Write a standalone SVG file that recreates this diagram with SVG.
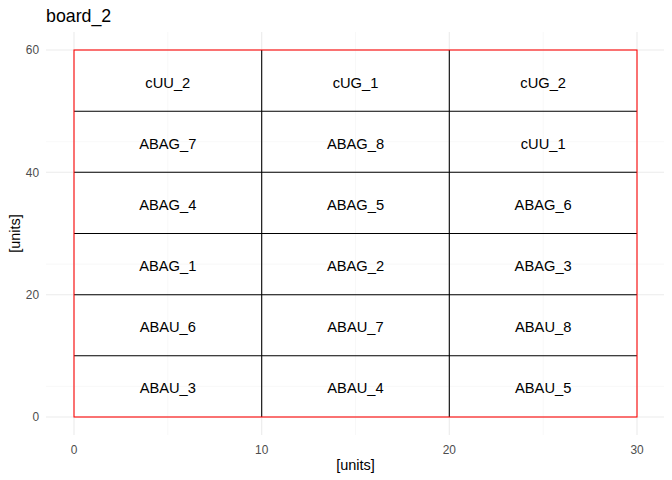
<svg xmlns="http://www.w3.org/2000/svg" width="672" height="480" viewBox="0 0 672 480">
  <style>
    .grid-major { stroke: #EBEBEB; stroke-width: 1.07; fill: none; }
    .grid-minor { stroke: #F2F2F2; stroke-width: 0.53; fill: none; }
    .divider { fill: none; stroke: #000000; stroke-width: 1.07; }
    .label { font-family: "Liberation Sans", Arial, sans-serif; font-size: 14.7px; fill: #000000; text-anchor: middle; }
    .tick { font-family: "Liberation Sans", Arial, sans-serif; font-size: 11.9px; fill: #4D4D4D; }
    .axis-title { font-family: "Liberation Sans", Arial, sans-serif; font-size: 14.5px; fill: #000000; text-anchor: middle; }
    .title { font-family: "Liberation Sans", Arial, sans-serif; font-size: 17.8px; fill: #000000; }
  </style>
  <rect x="0" y="0" width="672" height="480" fill="#FFFFFF"/>

  <!-- panel grid -->
  <g id="grid">
    <path class="grid-minor" d="M46,386.4H664M46,264.1H664M46,141.7H664M167.8,32V435M355.5,32V435M543.2,32V435"/>
    <path class="grid-major" d="M46,417H664M46,294.7H664M46,172.3H664M46,50H664M74,32V435M261.7,32V435M449.3,32V435M637,32V435"/>
  </g>

  <!-- inner cell dividers -->
  <path id="dividers" class="divider" d="M74,111.2H637M74,172.3H637M74,233.5H637M74,294.7H637M74,355.8H637M261.7,50V417M449.3,50V417"/>

  <!-- board cells -->
  <g id="cells">
    <g id="cell-cUU_2"><text class="label" x="167.8" y="87.5">cUU_2</text></g>
    <g id="cell-cUG_1"><text class="label" x="355.5" y="87.5">cUG_1</text></g>
    <g id="cell-cUG_2"><text class="label" x="543.2" y="87.5">cUG_2</text></g>

    <g id="cell-ABAG_7"><text class="label" x="167.8" y="148.6">ABAG_7</text></g>
    <g id="cell-ABAG_8"><text class="label" x="355.5" y="148.6">ABAG_8</text></g>
    <g id="cell-cUU_1"><text class="label" x="543.2" y="148.6">cUU_1</text></g>

    <g id="cell-ABAG_4"><text class="label" x="167.8" y="209.8">ABAG_4</text></g>
    <g id="cell-ABAG_5"><text class="label" x="355.5" y="209.8">ABAG_5</text></g>
    <g id="cell-ABAG_6"><text class="label" x="543.2" y="209.8">ABAG_6</text></g>

    <g id="cell-ABAG_1"><text class="label" x="167.8" y="271">ABAG_1</text></g>
    <g id="cell-ABAG_2"><text class="label" x="355.5" y="271">ABAG_2</text></g>
    <g id="cell-ABAG_3"><text class="label" x="543.2" y="271">ABAG_3</text></g>

    <g id="cell-ABAU_6"><text class="label" x="167.8" y="332.1">ABAU_6</text></g>
    <g id="cell-ABAU_7"><text class="label" x="355.5" y="332.1">ABAU_7</text></g>
    <g id="cell-ABAU_8"><text class="label" x="543.2" y="332.1">ABAU_8</text></g>

    <g id="cell-ABAU_3"><text class="label" x="167.8" y="393.3">ABAU_3</text></g>
    <g id="cell-ABAU_4"><text class="label" x="355.5" y="393.3">ABAU_4</text></g>
    <g id="cell-ABAU_5"><text class="label" x="543.2" y="393.3">ABAU_5</text></g>
  </g>

  <!-- board outline -->
  <rect id="board-outline" x="74" y="50" width="563" height="367" fill="none" stroke="#FF0000" stroke-width="1.07"/>

  <!-- axes -->
  <g id="y-ticks" class="tick" text-anchor="end">
    <text x="39" y="421.3">0</text>
    <text x="39" y="299">20</text>
    <text x="39" y="176.6">40</text>
    <text x="39" y="54.3">60</text>
  </g>
  <g id="x-ticks" class="tick" text-anchor="middle">
    <text x="74" y="453.5">0</text>
    <text x="261.7" y="453.5">10</text>
    <text x="449.3" y="453.5">20</text>
    <text x="637" y="453.5">30</text>
  </g>
  <text class="axis-title" x="355.5" y="470">[units]</text>
  <text class="axis-title" transform="translate(20,233.5) rotate(-90)">[units]</text>

  <text class="title" x="46" y="22">board_2</text>
</svg>
